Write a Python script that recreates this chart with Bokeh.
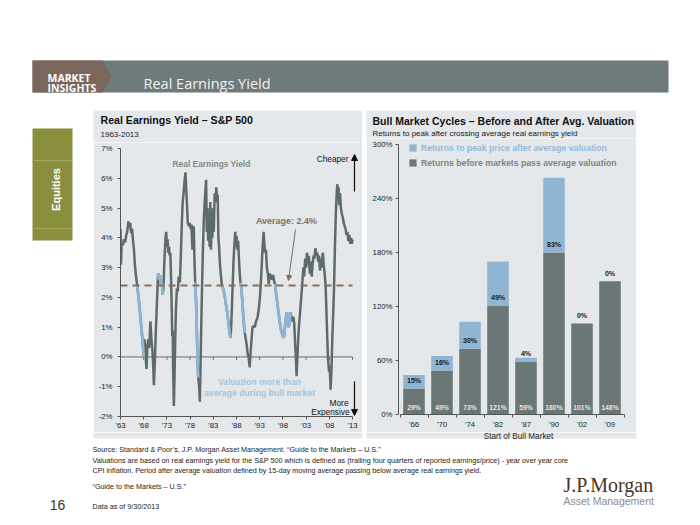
import numpy as np
from bokeh.plotting import figure
from bokeh.layouts import column, row
from bokeh.models import (Range1d, FixedTicker, Arrow, NormalHead, Legend,
                          LegendItem, Spacer)
from bokeh.core.properties import value
from bokeh.embed import file_html
from bokeh.resources import INLINE

# ---------------- data ----------------
ey_years = [
    1963.00, 1963.10, 1963.25, 1963.50, 1963.75, 1964.00, 1964.25, 1964.50, 1964.70, 1964.90,
    1965.10, 1965.30, 1965.50, 1965.70, 1965.90, 1966.10, 1966.35, 1966.60, 1966.85, 1967.10,
    1967.30, 1967.55, 1967.80, 1968.00, 1968.15, 1968.35, 1968.60, 1968.80, 1969.00, 1969.20,
    1969.45, 1969.65, 1969.85, 1970.05, 1970.20, 1970.40, 1970.60, 1970.80, 1970.95, 1971.10,
    1971.30, 1971.50, 1971.70, 1971.90, 1972.10, 1972.25, 1972.45, 1972.70, 1972.85, 1973.00,
    1973.15, 1973.30, 1973.45, 1973.60, 1973.75, 1973.90, 1974.05, 1974.15, 1974.25, 1974.35,
    1974.50, 1974.65, 1974.80, 1974.95, 1975.15, 1975.35, 1975.55, 1975.80, 1976.00, 1976.20,
    1976.40, 1976.60, 1976.80, 1977.00, 1977.15, 1977.30, 1977.50, 1977.70, 1977.90, 1978.10,
    1978.30, 1978.50, 1978.65, 1978.80, 1978.95, 1979.10, 1979.30, 1979.45, 1979.60, 1979.75,
    1979.95, 1980.10, 1980.25, 1980.40, 1980.55, 1980.75, 1980.95, 1981.15, 1981.45, 1981.60,
    1981.75, 1981.90, 1982.05, 1982.20, 1982.35, 1982.50, 1982.65, 1982.80, 1982.95, 1983.10,
    1983.30, 1983.50, 1983.65, 1983.80, 1983.95, 1984.10, 1984.25, 1984.40, 1984.60, 1984.85,
    1985.10, 1985.40, 1985.70, 1986.00, 1986.30, 1986.55, 1986.70, 1986.85, 1987.00, 1987.15,
    1987.35, 1987.55, 1987.75, 1987.90, 1988.05, 1988.20, 1988.35, 1988.50, 1988.70, 1988.85,
    1989.05, 1989.25, 1989.45, 1989.65, 1989.80, 1990.00, 1990.20, 1990.40, 1990.60, 1990.85,
    1991.05, 1991.25, 1991.45, 1991.70, 1991.95, 1992.20, 1992.50, 1992.80, 1993.10, 1993.35,
    1993.60, 1993.85, 1994.00, 1994.15, 1994.35, 1994.55, 1994.75, 1994.95, 1995.15, 1995.40,
    1995.65, 1995.90, 1996.15, 1996.35, 1996.55, 1996.80, 1997.05, 1997.30, 1997.55, 1997.80,
    1998.05, 1998.25, 1998.45, 1998.65, 1998.85, 1999.05, 1999.25, 1999.45, 1999.65, 1999.85,
    2000.05, 2000.25, 2000.45, 2000.65, 2000.85, 2000.95, 2001.15, 2001.40, 2001.65, 2001.90,
    2002.15, 2002.40, 2002.60, 2002.80, 2003.00, 2003.20, 2003.40, 2003.60, 2003.80, 2004.00,
    2004.20, 2004.40, 2004.60, 2004.80, 2005.00, 2005.20, 2005.40, 2005.60, 2005.80, 2006.00,
    2006.20, 2006.40, 2006.60, 2006.80, 2007.00, 2007.20, 2007.45, 2007.70, 2007.95, 2008.10,
    2008.28, 2008.45, 2008.65, 2008.85, 2009.00, 2009.20, 2009.40, 2009.60, 2009.72, 2009.85,
    2010.00, 2010.15, 2010.30, 2010.50, 2010.70, 2010.90, 2011.10, 2011.30, 2011.50, 2011.70,
    2011.90, 2012.10, 2012.30, 2012.50, 2012.70, 2012.85, 2013.00,
]
ey_values = [
    4.30, 3.10, 3.80, 3.75, 3.95, 3.85, 4.10, 4.25, 4.55, 4.35,
    4.50, 4.15, 4.30, 3.90, 3.60, 3.10, 2.70, 2.40, 2.05, 1.70,
    1.30, 0.90, 0.45, 0.00, 0.60, 0.20, -0.40, 0.40, 0.60, 0.30,
    1.20, 0.60, 0.30, -0.30, -0.95, -0.20, 0.80, 1.60, 2.20, 2.80,
    2.60, 2.75, 2.40, 2.50, 2.10, 2.30, 3.20, 4.00, 4.20, 3.70,
    3.95, 3.50, 3.70, 3.40, 3.50, 2.60, 1.60, 0.70, 0.90, -0.40,
    -1.65, -0.60, 0.60, 1.60, 2.30, 2.20, 2.70, 2.50, 3.40, 4.40,
    5.20, 5.50, 5.90, 6.20, 5.70, 5.20, 4.50, 4.40, 4.50, 4.30,
    4.45, 3.60, 4.40, 4.30, 3.20, 2.50, 1.80, 0.90, 0.00, -0.70,
    -1.00, -1.50, -0.30, 1.00, 2.20, 3.50, 4.60, 5.20, 5.95, 4.20,
    5.00, 3.90, 4.80, 3.70, 5.20, 3.60, 4.60, 4.00, 5.00, 4.20,
    5.50, 5.20, 5.70, 5.30, 5.45, 4.00, 3.70, 3.20, 2.80, 2.40,
    2.30, 2.10, 1.80, 1.50, 1.10, 0.80, 0.65, 1.00, 1.60, 2.30,
    3.20, 3.80, 4.20, 3.70, 4.05, 3.60, 3.90, 3.40, 2.80, 2.50,
    2.30, 1.90, 1.40, 1.00, 0.80, 0.60, 0.40, 0.10, 0.00, -0.35,
    0.20, 0.60, 1.00, 1.05, 1.00, 1.20, 1.30, 1.60, 2.10, 2.80,
    3.60, 4.20, 3.80, 3.50, 3.60, 3.00, 2.80, 2.45, 2.80, 2.70,
    2.60, 2.75, 2.50, 2.45, 2.10, 1.80, 1.50, 1.20, 0.95, 0.80,
    0.65, 0.70, 1.00, 1.30, 1.50, 1.30, 1.00, 1.20, 1.50, 1.30,
    1.20, 1.35, 1.10, 0.40, -0.20, -0.65, 0.10, 0.90, 1.40, 1.90,
    2.40, 3.00, 2.70, 3.30, 3.00, 3.50, 3.10, 3.40, 2.80, 3.20,
    2.70, 3.10, 3.40, 3.30, 3.65, 3.40, 3.50, 3.20, 3.40, 2.90,
    3.30, 3.00, 3.50, 3.10, 2.80, 2.40, 1.20, 0.00, -0.50, -0.30,
    -1.10, -0.50, 0.60, 1.50, 2.20, 3.60, 4.80, 5.50, 5.80, 5.60,
    5.70, 5.10, 5.50, 5.00, 4.80, 4.70, 4.50, 4.40, 4.30, 4.10,
    4.20, 3.90, 4.10, 3.80, 4.00, 3.80, 3.95,
]
# periods where valuation was richer than average during a bull market (blue)
blue_periods = [(1966.60, 1968.00), (1971.10, 1972.10), (1979.10, 1979.75),
                (1984.85, 1986.70), (1988.85, 1989.80), (1996.35, 1999.65)]
avg_yield = 2.4
left_y_ticks = [-2, -1, 0, 1, 2, 3, 4, 5, 6, 7]
left_x_ticks = [1963, 1968, 1973, 1978, 1983, 1988, 1993, 1998, 2003, 2008, 2013]
left_x_labels = ["'63", "'68", "'73", "'78", "'83", "'88", "'93", "'98", "'03", "'08", "'13"]

bull_starts = ["'66", "'70", "'74", "'82", "'87", "'90", "'02", "'09"]
before_avg = [29, 49, 73, 121, 59, 180, 101, 148]
after_avg = [15, 16, 30, 49, 4, 83, 0, 0]
right_y_ticks = [0, 60, 120, 180, 240, 300]

# ---------------- style ----------------
SANS = "Liberation Sans"
HEAD = "Open Sans"
SERIF = "Liberation Serif"
PANEL = "#e4e8ea"
DARK = "#5f6b6b"
BAR_DARK = "#6b7676"
BLUE = "#8db5d6"
BAR_BLUE = "#8fb5d3"
BROWN = "#8a6e5c"
BAND = "#6f7b7b"
BAND_BROWN = "#7a665c"
OLIVE = "#8a8f3e"
TXT = "#222222"


def deco(w, h, x0, y0, bg):
    p = figure(width=w, height=h, x_range=Range1d(x0, x0 + w), y_range=Range1d(y0 + h, y0),
               x_axis_type=None, y_axis_type=None, output_backend="svg",
               toolbar_location=None, min_border=0, outline_line_color=None,
               background_fill_color=bg, border_fill_color=bg, frame_align=False)
    p.grid.visible = False
    return p


def txt(p, x, y, s, size, color, bold=False, align="left", baseline="middle",
        font=SANS, angle=0.0):
    p.text(x=[x], y=[y], text=[s], text_font=value(font), text_font_size=f"{size}px",
           text_font_style="bold" if bold else "normal", text_color=color,
           text_align=align, text_baseline=baseline, angle=angle)


ROW_TOP, ROW_BOT = 110, 432

# ---------------- header ----------------
hdr = deco(700, ROW_TOP, 0, 0, "white")
hdr.quad(left=[32], right=[668], top=[60], bottom=[92], fill_color=BAND, line_color=None)
hdr.patch([32, 102, 111, 102, 32], [60, 60, 76, 92, 92], fill_color=BAND_BROWN, line_color=None)
txt(hdr, 47, 77, "MARKET", 10.5, "white", bold=True, font=HEAD)
txt(hdr, 47, 87.5, "INSIGHTS", 10.5, "white", bold=True, font=HEAD)
txt(hdr, 143, 83, "Real Earnings Yield", 14.5, "#eef1f1", font=HEAD)

# ---------------- left margin (Equities tab) ----------------
lm = deco(93, ROW_BOT - ROW_TOP, 0, ROW_TOP, "white")
lm.quad(left=[32], right=[72], top=[128], bottom=[240], fill_color=OLIVE, line_color=None)
lm.segment(x0=[32, 32], y0=[160, 228], x1=[72, 72], y1=[160, 228], line_color="#a4a865", line_width=1)
txt(lm, 55, 189, "Equities", 11, "white", bold=True, align="center", angle=np.pi / 2)

# ---------------- left panel ----------------
LT_H = 32
lt = deco(269, LT_H, 93, ROW_TOP, PANEL)
txt(lt, 100, 119.5, "Real Earnings Yield – S&P 500", 10.6, "#111111", bold=True)
txt(lt, 100, 133.5, "1963-2013", 8, TXT)

W_L, LB_L, BB_L = 269, 27, 16
H_L = ROW_BOT - ROW_TOP - LT_H
l_top_px = ROW_TOP + LT_H          # page px of the chart canvas top (frame top)
px_per_year = 4.64
px_per_pct = 29.78
y7_px = 148                        # page px of the top tick
lx_start = left_x_ticks[0]
lx_end = lx_start + (W_L - LB_L) / px_per_year
ly_lo, ly_hi = left_y_ticks[0], left_y_ticks[-1]
ly_top = ly_hi + (y7_px - l_top_px) / px_per_pct
frame_left_px = 93 + LB_L


def lx(px):
    return lx_start + (px - frame_left_px) / px_per_year


def ly(py):
    return ly_hi - (py - y7_px) / px_per_pct


lc = figure(width=W_L, height=H_L, x_range=Range1d(lx_start, lx_end), y_range=Range1d(ly_lo, ly_top),
            output_backend="svg", toolbar_location=None, min_border_left=LB_L, min_border_right=0,
            min_border_top=0, min_border_bottom=BB_L, outline_line_color=None,
            background_fill_color=PANEL, border_fill_color=PANEL, frame_align=False)
lc.grid.visible = False
for ax in (lc.xaxis[0], lc.yaxis[0]):
    ax.axis_line_color = "#555555"
    ax.major_tick_line_color = "#555555"
    ax.major_tick_out = 3
    ax.major_tick_in = 0
    ax.minor_tick_line_color = None
    ax.major_label_text_font = SANS
    ax.major_label_text_font_size = "7.8px"
    ax.major_label_text_color = TXT
lc.yaxis.ticker = FixedTicker(ticks=left_y_ticks)
lc.yaxis.major_label_overrides = {t: f"{t}%" for t in left_y_ticks}
lc.yaxis.major_label_standoff = 5
lc.yaxis.bounds = (ly_lo, ly_hi)
lc.xaxis.ticker = FixedTicker(ticks=left_x_ticks)
lc.xaxis.major_label_overrides = dict(zip(left_x_ticks, left_x_labels))
lc.xaxis.major_label_standoff = 1
lc.xaxis.bounds = (left_x_ticks[0], left_x_ticks[-1])

# zero line with small ticks
lc.segment(x0=[left_x_ticks[0]], y0=[0], x1=[left_x_ticks[-1]], y1=[0], line_color="#6a6a6a", line_width=1)
lc.segment(x0=left_x_ticks[1:], y0=[0] * (len(left_x_ticks) - 1), x1=left_x_ticks[1:],
           y1=[-0.1] * (len(left_x_ticks) - 1), line_color="#6a6a6a", line_width=1)

yrs = np.array(ey_years)
vals = np.array(ey_values)
mask = np.zeros(len(yrs), dtype=bool)
for a, b in blue_periods:
    mask |= (yrs >= a - 1e-6) & (yrs <= b + 1e-6)
blue_vals = np.where(mask, vals, np.nan)

lc.line(yrs, vals, line_color=DARK, line_width=2.5)
lc.line(yrs, blue_vals, line_color=BLUE, line_width=2.8)
lc.segment(x0=[left_x_ticks[0]], y0=[avg_yield], x1=[left_x_ticks[-1]], y1=[avg_yield],
           line_color=BROWN, line_width=2, line_dash="7 5")

txt(lc, lx(211), ly(164), "Real Earnings Yield", 8.4, "#7f8b8b", bold=True, align="center")
txt(lc, lx(286), ly(221), f"Average: {avg_yield}%", 9, BROWN, bold=True, align="center")
txt(lc, lx(348), ly(159), "Cheaper", 8.3, "#111111", align="right")
txt(lc, lx(259), ly(381.5), "Valuation more than", 8.7, "#a2c5e1", bold=True, align="center")
txt(lc, lx(259), ly(392.5), "average during bull market", 8.7, "#a2c5e1", bold=True, align="center")
txt(lc, lx(348), ly(402.5), "More", 8.3, "#111111", align="right")
txt(lc, lx(349), ly(412), "Expensive", 8.3, "#111111", align="right")
lc.add_layout(Arrow(end=NormalHead(size=6, fill_color="#111111", line_color="#111111"),
                    x_start=lx(354), y_start=ly(191), x_end=lx(354), y_end=ly(154),
                    line_color="#111111", line_width=1.2))
lc.add_layout(Arrow(end=NormalHead(size=6, fill_color="#111111", line_color="#111111"),
                    x_start=lx(354), y_start=ly(381), x_end=lx(354), y_end=ly(415),
                    line_color="#111111", line_width=1.2))
lc.add_layout(Arrow(end=NormalHead(size=5, fill_color=BROWN, line_color=BROWN),
                    x_start=lx(295), y_start=ly(229), x_end=lx(288), y_end=ly(280),
                    line_color="#7a6e66", line_width=1))

# ---------------- right panel ----------------
RT_H = 28
rt = deco(270, RT_H, 366, ROW_TOP, PANEL)
txt(rt, 372, 120, "Bull Market Cycles – Before and After Avg. Valuation", 10.5, "#111111", bold=True)
txt(rt, 372, 132.5, "Returns to peak after crossing average real earnings yield", 8, TXT)

W_R, LB_R, BB_R = 270, 32, 18
H_R = ROW_BOT - ROW_TOP - RT_H
r_top_px = ROW_TOP + RT_H
zero_px = 414
px_per_ret = 0.9
slot_px = 28.0
first_center_px = 413.5
xr_start = -(first_center_px - (366 + LB_R)) / slot_px
xr_end = xr_start + (W_R - LB_R) / slot_px
yr_top = (zero_px - r_top_px) / px_per_ret

n = len(bull_starts)
idx = list(range(n))
tops = list(np.add(before_avg, after_avg))

rc = figure(width=W_R, height=H_R, x_range=Range1d(xr_start, xr_end),
            y_range=Range1d(right_y_ticks[0], yr_top),
            output_backend="svg", toolbar_location=None, min_border_left=LB_R, min_border_right=0,
            min_border_top=0, min_border_bottom=BB_R, outline_line_color=None,
            background_fill_color=PANEL, border_fill_color=PANEL, frame_align=False)
rc.grid.visible = False
for ax in (rc.xaxis[0], rc.yaxis[0]):
    ax.axis_line_color = "#555555"
    ax.major_tick_line_color = "#555555"
    ax.major_label_text_font = SANS
    ax.major_label_text_font_size = "7.8px"
    ax.major_label_text_color = TXT
rc.yaxis.ticker = FixedTicker(ticks=right_y_ticks)
rc.yaxis.major_label_overrides = {t: f"{t}%" for t in right_y_ticks}
rc.yaxis.major_tick_out = 3
rc.yaxis.major_tick_in = 0
rc.yaxis.minor_tick_line_color = None
rc.yaxis.major_label_standoff = 3
rc.yaxis.bounds = (right_y_ticks[0], right_y_ticks[-1])
rc.xaxis.ticker = FixedTicker(ticks=idx, minor_ticks=[i - 0.5 for i in range(n + 1)])
rc.xaxis.major_label_overrides = dict(zip(idx, bull_starts))
rc.xaxis.major_tick_out = 0
rc.xaxis.major_tick_in = 0
rc.xaxis.minor_tick_out = 3
rc.xaxis.minor_tick_in = 0
rc.xaxis.minor_tick_line_color = "#555555"
rc.xaxis.bounds = (-0.5, n - 0.5)
rc.xaxis.major_label_standoff = 2

r_before = rc.vbar(x=idx, bottom=0, top=before_avg, width=0.77, fill_color=BAR_DARK, line_color=None)
r_after = rc.vbar(x=idx, bottom=before_avg, top=tops, width=0.77, fill_color=BAR_BLUE, line_color=None)
rc.text(x=idx, y=before_avg, text=[f"{v}%" for v in after_avg], y_offset=-8,
        text_font=value(SANS), text_font_size="7px", text_font_style="bold", text_color="#1a1a1a",
        text_align="center", text_baseline="middle")
rc.text(x=idx, y=[0] * n, text=[f"{v}%" for v in before_avg], y_offset=-7,
        text_font=value(SANS), text_font_size="6.8px", text_font_style="bold", text_color="#e2e6e8",
        text_align="center", text_baseline="middle")

for label, rend, color, yloc in (("Returns to peak price after average valuation", r_after, "#93bbdb", 261.5),
                                 ("Returns before markets pass average valuation", r_before, "#7b8686", 246.5)):
    lg = Legend(items=[LegendItem(label=label, renderers=[rend])], location=(10, yloc),
                padding=0, margin=0, spacing=0, glyph_width=9, glyph_height=9, label_height=9,
                label_standoff=4, background_fill_alpha=0, border_line_alpha=0,
                label_text_font=SANS, label_text_font_size="8.7px", label_text_font_style="bold",
                label_text_color=color)
    rc.add_layout(lg)

# ---------------- footer ----------------
ft = deco(700, 525 - ROW_BOT, 0, ROW_BOT, "white")
ft.quad(left=[93, 366], right=[362, 636], top=[ROW_BOT, ROW_BOT], bottom=[438, 438],
        fill_color=PANEL, line_color=None)
txt(ft, 518, 435.5, "Start of Bull Market", 8.2, TXT, align="center")
foot_lines = [
    (448.5, "Source: Standard & Poor’s, J.P. Morgan Asset Management. “Guide to the Markets – U.S.”"),
    (459.5, "Valuations are based on real earnings yield for the S&P 500 which is defined as (trailing four quarters of reported earnings/price) - year over year core"),
    (470, "CPI inflation.  Period after average valuation defined by 15-day moving average passing below average real earnings yield."),
    (485.5, "“Guide to the Markets – U.S.”"),
    (505.5, "Data as of 9/30/2013"),
]
for yy, s in foot_lines:
    txt(ft, 92, yy, s, 7.2, TXT)
txt(ft, 57, 504, "16", 14, "#333333", align="center")
txt(ft, 563, 484, "J.P.Morgan", 20, "#4a3426", baseline="alphabetic", font=SERIF)
txt(ft, 563, 500, "Asset Management", 10.5, "#8a8a8a")

layout = column(
    hdr,
    row(lm, column(lt, lc), Spacer(width=4, height=ROW_BOT - ROW_TOP), column(rt, rc),
        Spacer(width=64, height=ROW_BOT - ROW_TOP)),
    ft,
)

open("out.html", "w").write(file_html(layout, INLINE))
